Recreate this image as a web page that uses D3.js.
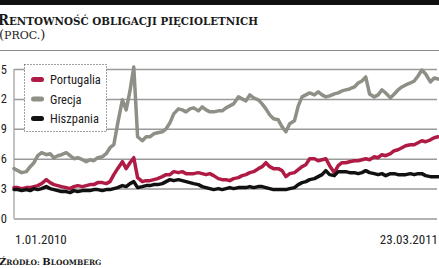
<!DOCTYPE html>
<html>
<head>
<meta charset="utf-8">
<script src="https://cdn.jsdelivr.net/npm/d3@7"></script>
<style>
  body { margin: 0; background: #fff; }
  svg { display: block; }
  .serif { font-family: 'DejaVu Serif', serif; font-weight: bold; fill: #1a1a1a; }
  .caps { text-transform: uppercase; }
  .sans { font-family: 'Liberation Sans Narrow', 'Roboto', sans-serif; font-stretch: condensed; fill: #222; }
</style>
</head>
<body>
<div id="chart"></div>
<script>
// Daily yields sampled at even steps between the first and last date
const startDate = new Date(2010, 0, 1);
const endDate = new Date(2011, 2, 23);

const seriesNames = ['Portugalia', 'Grecja', 'Hiszpania'];
const seriesColors = ['#b01b45', '#8d9086', '#111111'];

const grecja = [
  5.0, 4.8, 4.6, 4.7, 5.2, 5.6, 6.3, 6.6, 6.4, 6.5, 6.1, 6.3, 6.4, 6.6, 6.3, 6.0,
  6.1, 5.9, 5.7, 5.9, 5.8, 6.1, 6.2, 6.5, 7.1, 7.4, 9.5, 11.9, 10.9, 12.8, 15.2, 8.2,
  7.8, 8.2, 8.2, 8.5, 8.6, 8.7, 9.0, 9.6, 10.5, 11.0, 10.9, 10.7, 11.0, 11.1, 10.8, 11.2,
  10.9, 10.7, 10.7, 10.8, 10.8, 11.1, 11.3, 11.5, 12.2, 12.0, 11.8, 12.4, 12.1, 11.9, 11.5, 11.0,
  10.4, 10.0, 9.9, 9.2, 8.7, 9.5, 9.8, 11.3, 12.2, 12.4, 12.6, 12.4, 12.7, 12.4, 12.2, 12.3,
  12.5, 12.6, 12.8, 12.9, 13.0, 13.2, 13.6, 13.8, 14.2, 12.5, 12.2, 12.4, 12.9, 12.6, 12.1, 12.5,
  12.9, 13.2, 13.4, 13.6, 13.8, 14.3, 14.9, 14.5, 13.7, 14.1, 14.0
];

const portugalia = [
  3.1, 3.1, 3.0, 3.1, 3.1, 3.2, 3.3, 3.5, 3.9, 3.6, 3.4, 3.3, 3.2, 3.1, 3.0, 3.2,
  3.3, 3.2, 3.3, 3.4, 3.4, 3.6, 3.6, 3.5, 3.7, 4.4, 5.0, 5.7, 5.0, 5.6, 6.1, 4.1,
  3.7, 3.8, 3.8, 3.9, 4.0, 4.2, 4.4, 4.4, 4.7, 4.6, 4.7, 4.5, 4.5, 4.5, 4.6, 4.5,
  4.4, 4.5, 4.3, 4.0, 3.9, 3.9, 3.8, 4.0, 4.1, 4.3, 4.4, 4.6, 4.7, 5.0, 5.2, 5.6,
  5.2, 5.0, 5.0, 4.8, 4.2, 4.5, 4.6, 4.9, 5.2, 5.4, 6.0, 6.0, 5.8, 5.9, 6.0, 5.3,
  4.6, 5.3, 5.6, 5.6, 5.7, 5.8, 5.8, 5.9, 6.0, 5.9, 6.2, 6.1, 6.4, 6.3, 6.5, 6.8,
  6.9, 7.1, 7.3, 7.4, 7.4, 7.6, 7.8, 7.7, 7.9, 8.1, 8.2
];

const hiszpania = [
  2.9, 2.9, 2.8, 2.9, 2.8, 3.0, 2.9, 3.0, 3.2, 3.0, 2.9, 2.8, 2.7, 2.7, 2.6, 2.8,
  2.7, 2.8, 2.8, 2.8, 2.9, 2.9, 2.8, 2.9, 2.9, 3.0, 3.1, 3.3, 3.2, 3.5, 3.7, 3.1,
  3.2, 3.3, 3.3, 3.4, 3.4, 3.5, 3.7, 3.9, 3.8, 3.9, 3.8, 3.7, 3.6, 3.5, 3.4, 3.2,
  3.1, 3.0, 2.9, 3.0, 2.9, 3.0, 3.1, 3.0, 3.1, 3.1, 3.1, 3.2, 3.1, 3.2, 3.2, 3.1,
  3.0, 2.9, 2.9, 2.9, 2.9, 3.0, 3.1, 3.4, 3.6, 3.7, 3.9, 4.0, 4.2, 4.4, 4.8, 4.4,
  4.3, 4.7, 4.7, 4.7, 4.6, 4.6, 4.5, 4.6, 4.8, 4.6, 4.5, 4.4, 4.5, 4.3, 4.5, 4.5,
  4.4, 4.4, 4.4, 4.5, 4.4, 4.5, 4.5, 4.3, 4.2, 4.2, 4.2
];

const yTicks = [0, 3, 6, 9, 12, 15];
const xLabels = ['1.01.2010', '23.03.2011'];

const width = 439;
const height = 268;
const margin = { top: 69, right: 1, bottom: 49, left: 14 };

const svg = d3.select('#chart')
  .append('svg')
  .attr('width', width)
  .attr('height', height);

// small caps by hand: first letter big, rest uppercase and smaller
function smallCaps(sel, first, rest, bigSize, smallSize) {
  sel.append('tspan').attr('font-size', bigSize).text(first);
  sel.append('tspan').attr('class', 'caps').attr('font-size', smallSize).text(rest);
}

// header: black bar, title, unit, rule
svg.append('rect')
  .attr('x', 0).attr('y', 0)
  .attr('width', width).attr('height', 5)
  .attr('fill', '#111');

const title = svg.append('text')
  .attr('class', 'serif')
  .attr('x', -2).attr('y', 25)
  .attr('textLength', 260)
  .attr('lengthAdjust', 'spacingAndGlyphs');
smallCaps(title, 'R', 'entowność obligacji pięcioletnich', 14, 11);

const unit = svg.append('text')
  .attr('class', 'serif')
  .attr('x', -1).attr('y', 39)
  .style('font-weight', 'normal');
unit.append('tspan').attr('font-size', 13).text('(');
unit.append('tspan').attr('class', 'caps').attr('font-size', 11).text('proc.');
unit.append('tspan').attr('font-size', 13).text(')');

svg.append('line')
  .attr('x1', 0).attr('x2', width)
  .attr('y1', 50.5).attr('y2', 50.5)
  .attr('stroke', '#8a8a8a')
  .attr('stroke-width', 1);

// scales
const n = grecja.length;
const span = d3.timeDay.count(startDate, endDate);
const dates = d3.range(n).map(i => d3.timeDay.offset(startDate, Math.round(i * span / (n - 1))));

const x = d3.scaleTime()
  .domain([startDate, endDate])
  .range([margin.left, width - margin.right]);

const y = d3.scaleLinear()
  .domain([0, 15])
  .range([height - margin.bottom - 0.5, margin.top]);

// grid + left axis
svg.append('g')
  .attr('transform', `translate(${margin.left},0)`)
  .call(d3.axisLeft(y).tickValues(yTicks).tickSize(0).tickPadding(7))
  .call(g => g.select('.domain').remove())
  .call(g => g.selectAll('.tick text')
    .attr('class', 'sans')
    .attr('font-size', 12.5)
    .attr('fill', '#222'))
  .call(g => g.selectAll('.tick line').clone()
    .attr('x2', width - margin.left - margin.right - 1)
    .attr('stroke', '#9a9a9a')
    .attr('stroke-width', 1.5));

svg.append('line')
  .attr('x1', margin.left).attr('x2', margin.left)
  .attr('y1', y(15)).attr('y2', y(0))
  .attr('stroke', '#9a9a9a')
  .attr('stroke-width', 1.2);

// lines
const allSeries = {
  'Portugalia': portugalia,
  'Grecja': grecja,
  'Hiszpania': hiszpania
};

const line = d3.line()
  .x((d, i) => x(dates[i]))
  .y(d => y(d));

['Grecja', 'Portugalia', 'Hiszpania'].forEach(name => {
  svg.append('path')
    .datum(allSeries[name])
    .attr('fill', 'none')
    .attr('stroke', seriesColors[seriesNames.indexOf(name)])
    .attr('stroke-width', 3.5)
    .attr('stroke-linejoin', 'round')
    .attr('stroke-linecap', 'round')
    .attr('d', line);
});

// legend
const legend = svg.append('g').attr('transform', 'translate(24.5,64.5)');
legend.append('rect')
  .attr('width', 82).attr('height', 67)
  .attr('fill', '#fff')
  .attr('stroke', '#444')
  .attr('stroke-width', 1)
  .attr('stroke-dasharray', '1,2');

seriesNames.forEach((name, i) => {
  const row = legend.append('g').attr('transform', `translate(0,${15 + i * 19.5})`);
  row.append('line')
    .attr('x1', 9).attr('x2', 17)
    .attr('stroke', seriesColors[i])
    .attr('stroke-width', 5)
    .attr('stroke-linecap', 'round');
  row.append('text')
    .attr('class', 'sans')
    .attr('x', 25.5).attr('y', 4.5)
    .attr('font-size', 12.5)
    .text(name);
});

// x labels
svg.append('text')
  .attr('class', 'sans')
  .attr('x', x(startDate) + 1).attr('y', 244)
  .attr('font-size', 13)
  .text(xLabels[0]);

svg.append('text')
  .attr('class', 'sans')
  .attr('x', x(endDate)).attr('y', 244)
  .attr('text-anchor', 'end')
  .attr('font-size', 13)
  .text(xLabels[1]);

// source
const source = svg.append('text')
  .attr('class', 'serif')
  .attr('x', -1).attr('y', 265);
smallCaps(source, 'Ź', 'ródło: ', 10, 7.4);
smallCaps(source, 'B', 'loomberg', 10, 7.4);
</script>
</body>
</html>
